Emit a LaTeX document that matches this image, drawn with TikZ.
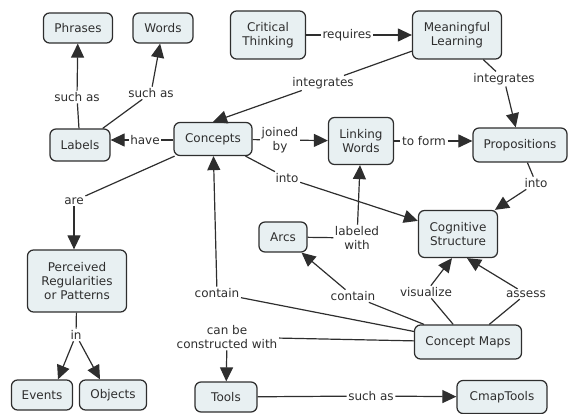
\documentclass[tikz,border=0pt]{standalone}
\usepackage{fontspec}
\setmainfont{DejaVu Sans}
\usetikzlibrary{arrows.meta}
\definecolor{boxfill}{HTML}{E8F0F2}
\definecolor{ink}{HTML}{2E2E2E}
\begin{document}
\begin{tikzpicture}[x=1pt,y=-1pt,
  concept/.style={draw=ink, fill=boxfill, rounded corners=6pt, line width=1.25pt,
    align=center, inner sep=0pt, text=ink, font=\fontsize{12}{14}\selectfont},
  lbl/.style={align=center, inner sep=1.5pt, text=ink, font=\fontsize{12}{14}\selectfont},
  conn/.style={draw=ink, line width=1.2pt},
  arr/.style={conn, -{Triangle[length=14pt,width=13pt]}}]
\useasboundingbox (0,0) rectangle (568,414);

% concepts
\node[concept, minimum width=69pt, minimum height=30pt] (phrases) at (78,28) {Phrases};
\node[concept, minimum width=60pt, minimum height=30pt] (words) at (163,28) {Words};
\node[concept, minimum width=75pt, minimum height=48pt] (crit) at (268,35) {Critical\\Thinking};
\node[concept, minimum width=89pt, minimum height=48pt] (ml) at (457,35) {Meaningful\\Learning};
\node[concept, minimum width=60pt, minimum height=32pt] (labels) at (80,145) {Labels};
\node[concept, minimum width=78pt, minimum height=33pt] (concepts) at (213,139) {Concepts};
\node[concept, minimum width=65pt, minimum height=47pt] (lw) at (361,141) {Linking\\Words};
\node[concept, minimum width=94pt, minimum height=34pt] (prop) at (520,145) {Propositions};
\node[concept, minimum width=79pt, minimum height=47pt] (cog) at (458,234) {Cognitive\\Structure};
\node[concept, minimum width=48pt, minimum height=30pt] (arcs) at (283,237) {Arcs};
\node[concept, minimum width=99pt, minimum height=62pt] (prp) at (77,281) {Perceived\\Regularities\\or Patterns};
\node[concept, minimum width=61pt, minimum height=30pt] (events) at (42,395) {Events};
\node[concept, minimum width=67pt, minimum height=30pt] (objects) at (113,395) {Objects};
\node[concept, minimum width=62pt, minimum height=30pt] (tools) at (226,397) {Tools};
\node[concept, minimum width=107pt, minimum height=34pt] (cm) at (468,342) {Concept Maps};
\node[concept, minimum width=90pt, minimum height=33pt] (cmap) at (502,397) {CmapTools};

% linking phrases
\node[lbl] (l1) at (77,97) {such as};
\node[lbl] (l2) at (151,93) {such as};
\node[lbl] (l3) at (145,140) {have};
\node[lbl] (l4) at (347,35) {requires};
\node[lbl] (l5) at (323,83) {integrates};
\node[lbl] (l6) at (504,79) {integrates};
\node[lbl] (l7) at (280,140) {joined\\by};
\node[lbl] (l8) at (424,141) {to form};
\node[lbl] (l9) at (287,178) {into};
\node[lbl] (l10) at (536,183) {into};
\node[lbl] (l11) at (74,201) {are};
\node[lbl] (l12) at (76,335) {in};
\node[lbl] (l13) at (357,238) {labeled\\with};
\node[lbl] (l14) at (217,293) {contain};
\node[lbl] (l15) at (353,296) {contain};
\node[lbl] (l16) at (426,292) {visualize};
\node[lbl] (l17) at (526,294) {assess};
\node[lbl] (l18) at (227,337) {can be\\constructed with};
\node[lbl] (l19) at (371,396) {such as};

% connectors
\draw[conn] (labels) -- (l1);  \draw[arr] (l1) -- (phrases);
\draw[conn] (labels) -- (l2);  \draw[arr] (l2) -- (words);
\draw[conn] (concepts.west |- l3) -- (l3);  \draw[arr] (l3) -- (l3 -| labels.east);
\draw[conn] (crit) -- (l4);  \draw[arr] (l4) -- (ml);
\draw[conn] (ml) -- (l5);  \draw[arr] (l5) -- (concepts.north);
\draw[conn] (ml) -- (l6);  \draw[arr] (l6) -- (prop);
\draw[conn] (concepts) -- (l7);  \draw[arr] (l7) -- (lw);
\draw[conn] (lw) -- (l8);  \draw[arr] (l8) -- (l8 -| prop.west);
\draw[conn] (concepts) -- (l9);  \draw[arr] (l9) -- (cog);
\draw[conn] (prop) -- (l10);  \draw[arr] (l10) -- (cog);
\draw[conn] (concepts) -- (l11);  \draw[arr] (l11) -- (l11 |- prp.north);
\draw[conn] (prp) -- (l12);
\draw[arr] (l12) -- ([xshift=16pt]events.north);
\draw[arr] (l12) -- ([xshift=-13pt]objects.north);
\draw[conn] (arcs) -- (l13);  \draw[arr] (l13) -- (lw);
\draw[conn] (cm) -- (l14);  \draw[arr] (l14) -- (concepts);
\draw[conn] (cm) -- (l15);  \draw[arr] (l15) -- (arcs);
\draw[conn] (cm) -- (l16);  \draw[arr] (l16) -- ([xshift=-6pt]cog.south);
\draw[conn] (cm) -- (l17);  \draw[arr] (l17) -- ([xshift=9pt]cog.south);
\draw[conn] (cm) -- (l18);  \draw[arr] (l18) -- (tools);
\draw[conn] (tools) -- (l19);  \draw[arr] (l19) -- (cmap);
\end{tikzpicture}
\end{document}
